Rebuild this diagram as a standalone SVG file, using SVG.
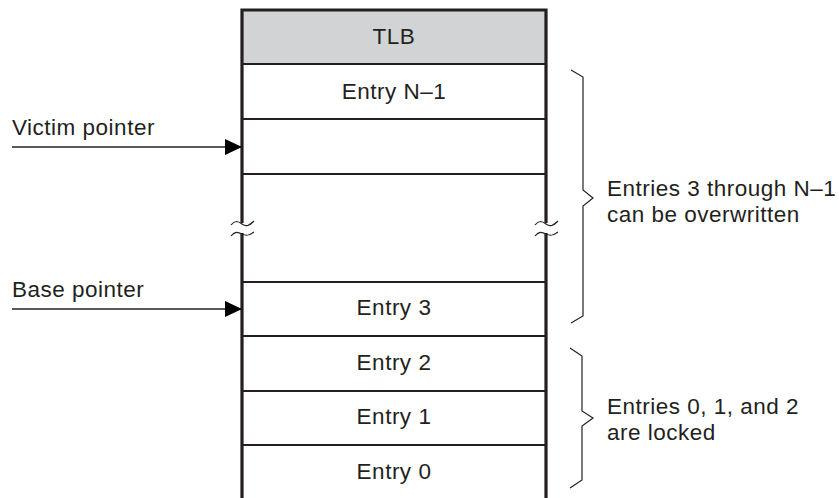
<svg xmlns="http://www.w3.org/2000/svg" width="839" height="498" viewBox="0 0 839 498">
<style>
  .t{font-family:"Liberation Sans",Arial,sans-serif;font-size:22.5px;fill:#231f20;letter-spacing:0.5px}
  .c{text-anchor:middle}
  .row{stroke:#231f20;stroke-width:1.8;fill:none}
  .border{stroke:#231f20;stroke-width:3.2;fill:none}
  .brace{stroke:#231f20;stroke-width:1.2;fill:none}
  .wire{stroke:#231f20;stroke-width:1.4;fill:none}
  .sq{stroke:#231f20;stroke-width:1.2;fill:none}
</style>
<defs>
  <marker id="arr" markerWidth="18" markerHeight="18" refX="17" refY="9" orient="auto" markerUnits="userSpaceOnUse">
    <path d="M0,1 L17,9 L0,17 Z" fill="#000"/>
  </marker>
</defs>
<rect width="839" height="498" fill="#fff"/>

<g id="tlb">
  <rect x="242" y="10" width="304" height="54" fill="#d1d3d4"/>
  <g id="rows">
    <line class="row" x1="242" y1="64" x2="546" y2="64"/>
    <line class="row" x1="242" y1="119" x2="546" y2="119"/>
    <line class="row" x1="242" y1="174" x2="546" y2="174"/>
    <line class="row" x1="242" y1="282" x2="546" y2="282"/>
    <line class="row" x1="242" y1="336" x2="546" y2="336"/>
    <line class="row" x1="242" y1="391" x2="546" y2="391"/>
    <line class="row" x1="242" y1="445" x2="546" y2="445"/>
  </g>
  <path class="border" d="M242,223 L242,10 L546,10 L546,223 M242,233 L242,500 M546,233 L546,500"/>
  <path class="sq" d="M231,225 C235,220 238,221 242,224 C246,227 249,226 254,221"/>
  <path class="sq" d="M231,236 C235,231 238,232 242,234 C246,236 249,236 254,232"/>
  <path class="sq" d="M535,225 C539,220 542,221 546,224 C550,227 553,226 558,221"/>
  <path class="sq" d="M535,236 C539,231 542,232 546,234 C550,236 553,236 558,232"/>
  <text class="t c" x="394" y="44">TLB</text>
</g>
<g id="entry-n1"><text class="t c" x="394" y="98.5">Entry N–1</text></g>
<g id="entry-3"><text class="t c" x="394" y="315">Entry 3</text></g>
<g id="entry-2"><text class="t c" x="394" y="370">Entry 2</text></g>
<g id="entry-1"><text class="t c" x="394" y="424">Entry 1</text></g>
<g id="entry-0"><text class="t c" x="394" y="478.5">Entry 0</text></g>

<g id="victim-pointer"><text class="t" x="12" y="135">Victim pointer</text></g>
<g id="base-pointer"><text class="t" x="12" y="297">Base pointer</text></g>

<g id="overwritable">
  <path class="brace" d="M571,70 L583,77 L583,190 L593,198 L583,206 L583,316 L571,323"/>
  <text class="t" x="607" y="196">Entries 3 through N–1</text>
  <text class="t" x="607" y="222">can be overwritten</text>
</g>
<g id="locked">
  <path class="brace" d="M570,348 L582,356 L582,411 L593,418 L582,426 L582,480 L570,488"/>
  <text class="t" x="607" y="414">Entries 0, 1, and 2</text>
  <text class="t" x="607" y="440">are locked</text>
</g>

<g id="connectors">
  <line class="wire" x1="12" y1="147" x2="242" y2="147" marker-end="url(#arr)"/>
  <line class="wire" x1="12" y1="309" x2="242" y2="309" marker-end="url(#arr)"/>
</g>
</svg>
